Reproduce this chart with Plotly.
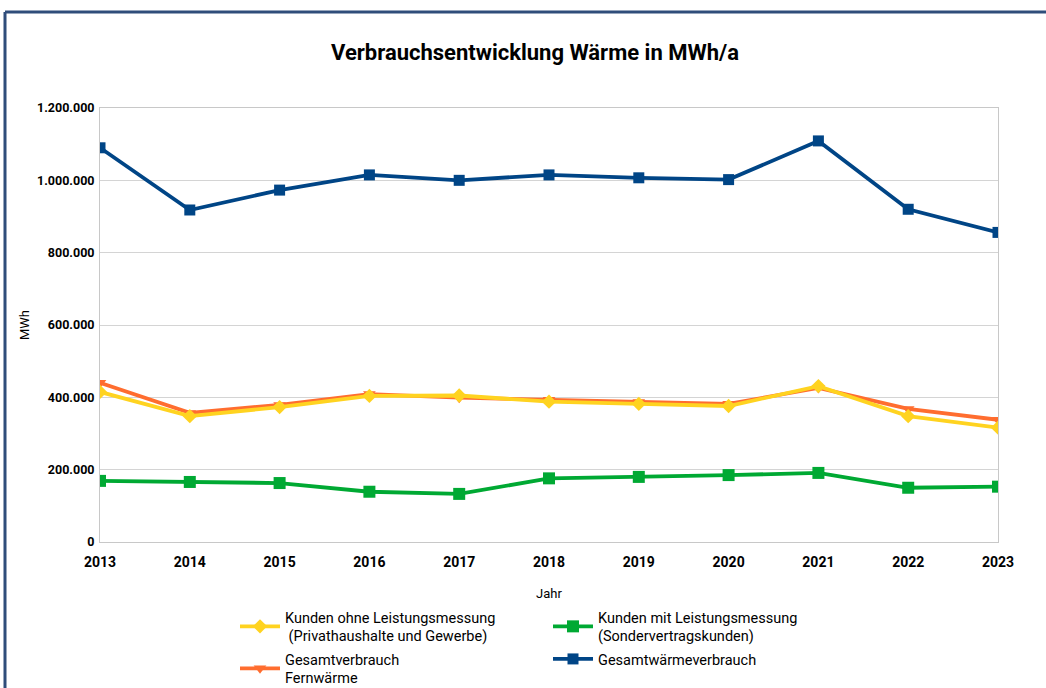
import plotly.graph_objects as go

years = ["2013", "2014", "2015", "2016", "2017", "2018", "2019", "2020", "2021", "2022", "2023"]
kunden_ohne = [415000, 348000, 373000, 404000, 405000, 388000, 382000, 376000, 431000, 348000, 316000]
kunden_mit = [169000, 166000, 163000, 139000, 133000, 176000, 180000, 185000, 191000, 150000, 153000]
gesamt_fern = [440000, 357000, 379000, 409000, 399000, 393000, 387000, 382000, 426000, 368000, 338000]
gesamt_waerme = [1090000, 918000, 973000, 1015000, 1000000, 1015000, 1007000, 1002000, 1109000, 920000, 856000]

FONT = "Roboto, Liberation Sans, sans-serif"

fig = go.Figure()

def add(name, y, color, symbol, size, legend):
    fig.add_trace(go.Scatter(
        x=years, y=y, name=name, mode="lines+markers",
        line=dict(color=color, width=3.8),
        marker=dict(symbol=symbol, size=size, color=color),
        legend=legend,
    ))

add("Gesamtwärmeverbrauch", gesamt_waerme, "#004586", "square", 11, "legend2")
add("Gesamtverbrauch<br>Fernwärme", gesamt_fern, "#ff6d2f", "triangle-down", 11, "legend2")
add("Kunden ohne Leistungsmessung<br> (Privathaushalte und Gewerbe)", kunden_ohne, "#ffd320", "diamond", 11, "legend")
add("Kunden mit Leistungsmessung<br>(Sondervertragskunden)", kunden_mit, "#00a933", "square", 12, "legend")

W, H = 1046, 688
L, R, T, B = 100, 48, 108, 146

def cy(y):
    return 1 - y / H

def cx(x):
    return x / W

fig.update_layout(
    width=W, height=H,
    margin=dict(l=L, r=R, t=T, b=B, autoexpand=False),
    paper_bgcolor="white", plot_bgcolor="white",
    separators=",.",
    font=dict(family=FONT, color="#000000", size=13),
    title=dict(text="<b>Verbrauchsentwicklung Wärme in MWh/a</b>",
               x=cx(535), xanchor="center", y=cy(52), yanchor="middle",
               xref="container", yref="container",
               font=dict(size=22, family=FONT)),
    xaxis=dict(
        type="category", showgrid=False, range=[0, 10], automargin=False,
        showline=True, linecolor="#c8c8c8", linewidth=1, mirror=True,
        ticks="", tickfont=dict(size=14, family=FONT), ticklabelstandoff=7,
        tickprefix="<b>", ticksuffix="</b>",
        title=dict(text="Jahr", font=dict(size=13, family=FONT), standoff=27),
    ),
    yaxis=dict(
        range=[0, 1200000], dtick=200000, tickformat=",d", automargin=False,
        showgrid=True, gridcolor="#d4d4d4", gridwidth=1,
        showline=True, linecolor="#c8c8c8", linewidth=1, mirror=True,
        zeroline=False, ticks="", ticklen=0, ticklabelstandoff=2,
        tickfont=dict(size=12.5, family=FONT),
        tickprefix="<b>", ticksuffix="</b>",
        title=dict(text="MWh", font=dict(size=13, family=FONT), standoff=4),
    ),
    legend=dict(
        orientation="h", xref="container", yref="container",
        x=cx(235), xanchor="left", y=cy(601), yanchor="top",
        entrywidth=258, entrywidthmode="pixels", traceorder="normal",
        font=dict(size=14.5, family=FONT), bgcolor="rgba(0,0,0,0)",
        itemwidth=40, tracegroupgap=0,
    ),
    legend2=dict(
        orientation="h", xref="container", yref="container",
        x=cx(235), xanchor="left", y=cy(643), yanchor="top",
        entrywidth=258, entrywidthmode="pixels", traceorder="reversed",
        font=dict(size=14.5, family=FONT), bgcolor="rgba(0,0,0,0)",
        itemwidth=40, tracegroupgap=0,
    ),
)

pw, ph = W - L - R, H - T - B

def px_x(x):
    return (x - L) / pw

def px_y(y):
    return (H - B - y) / ph

# outer frame lines (dark blue)
fig.add_shape(type="line", xref="paper", yref="paper",
              x0=px_x(5), x1=px_x(1046), y0=px_y(12), y1=px_y(12),
              line=dict(color="#2f4d7a", width=3))
fig.add_shape(type="line", xref="paper", yref="paper",
              x0=px_x(5), x1=px_x(5), y0=px_y(12), y1=px_y(688),
              line=dict(color="#2f4d7a", width=3))

fig.write_html("out.html", config={"displayModeBar": False},
               post_script="document.body.style.margin='0';")
